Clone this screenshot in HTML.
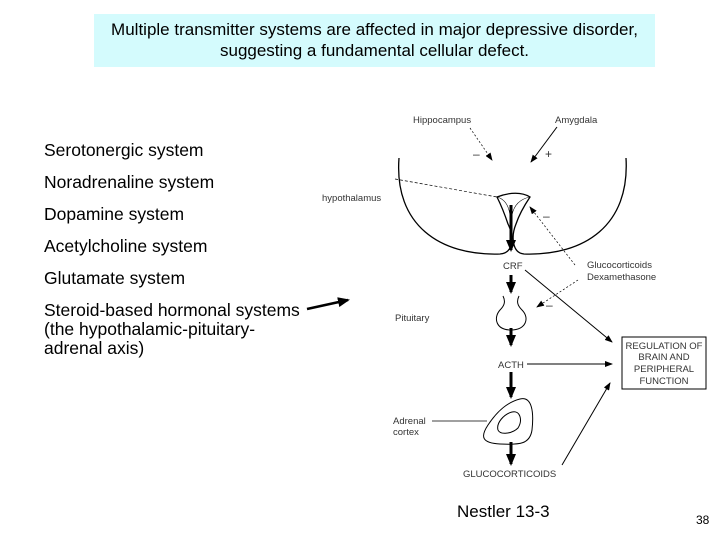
<!DOCTYPE html>
<html><head><meta charset="utf-8"><style>
body{margin:0;width:720px;height:540px;background:#fff;overflow:hidden;position:relative;font-family:"Liberation Sans",sans-serif}
.t{position:absolute;left:94px;top:14px;width:561px;height:53px;background:#d4fbfd;text-align:center;font-size:17px;line-height:21px;padding-top:5px;box-sizing:border-box;color:#000}
.l{position:absolute;left:44px;font-size:17.5px;color:#000;line-height:19px}
</style></head><body>
<div class="t">Multiple transmitter systems are affected in major depressive disorder,<br>suggesting a fundamental cellular defect.</div>
<div class="l" style="top:141px">Serotonergic system</div>
<div class="l" style="top:173px">Noradrenaline system</div>
<div class="l" style="top:205px">Dopamine system</div>
<div class="l" style="top:237px">Acetylcholine system</div>
<div class="l" style="top:269px">Glutamate system</div>
<div class="l" style="top:301px">Steroid-based hormonal systems<br>(the hypothalamic-pituitary-<br>adrenal axis)</div>
<div class="l" style="left:457px;top:502px;font-size:17px">Nestler 13-3</div>
<div class="l" style="left:696px;top:511px;font-size:12px">38</div>
<svg width="720" height="540" style="position:absolute;left:0;top:0" font-family="Liberation Sans, sans-serif" font-size="9.5" fill="#333">
<defs>
<marker id="a" markerWidth="8" markerHeight="6" refX="7" refY="3" orient="auto" markerUnits="userSpaceOnUse"><path d="M0,0L8,3L0,6z" fill="#000"/></marker>
<marker id="b" markerWidth="12" markerHeight="10" refX="10" refY="5" orient="auto" markerUnits="userSpaceOnUse"><path d="M0,0L12,5L0,10z" fill="#000"/></marker>
</defs>
<g stroke="#000" fill="none">
<path d="M399,158 C394,225 440,256 500,254 C514,253 514,236 508,224 C504,212 500,203 497,197 C510,192 522,192 530,197 C526,203 520,212 516,224 C511,236 512,253 524,254 C585,256 630,225 626,158" stroke-width="1.3"/>
<path d="M497,197 Q508,200 510,215 M530,197 Q515,200 512,215" stroke-width="0.6"/>
<line x1="511" y1="205" x2="511" y2="250" stroke-width="3" marker-end="url(#b)"/>
<line x1="511" y1="275" x2="511" y2="292" stroke-width="3" marker-end="url(#b)"/>
<path d="M503,296 C506,302 504,306 500,310 C493,318 496,330 511,330 C526,330 530,318 522,310 C518,306 516,302 519,296" stroke-width="1"/>
<line x1="511" y1="328" x2="511" y2="345" stroke-width="3" marker-end="url(#b)"/>
<line x1="511" y1="372" x2="511" y2="397" stroke-width="3" marker-end="url(#b)"/>
<path d="M520,399 C532,396 534,412 532,430 C530,444 520,445 500,444 C482,443 480,437 488,425 C498,410 508,402 520,399z" stroke-width="1"/>
<path d="M512,412 C520,410 523,420 518,428 C512,434 500,435 498,430 C496,423 504,414 512,412z" stroke-width="1"/>
<line x1="511" y1="442" x2="511" y2="464" stroke-width="3" marker-end="url(#b)"/>
<line x1="470" y1="128" x2="492" y2="160" stroke-dasharray="2,2" stroke-width="0.7" marker-end="url(#a)"/>
<line x1="557" y1="127" x2="531" y2="162" stroke-width="1" marker-end="url(#a)"/>
<line x1="395" y1="179" x2="497" y2="197" stroke-dasharray="3,2" stroke-width="0.7"/>
<line x1="575" y1="265" x2="530" y2="207" stroke-dasharray="2,2" stroke-width="0.7" marker-end="url(#a)"/>
<line x1="578" y1="280" x2="537" y2="307" stroke-dasharray="2,2" stroke-width="0.7" marker-end="url(#a)"/>
<line x1="525" y1="270" x2="612" y2="342" stroke-width="1" marker-end="url(#a)"/>
<line x1="527" y1="364" x2="612" y2="364" stroke-width="1" marker-end="url(#a)"/>
<line x1="562" y1="465" x2="610" y2="383" stroke-width="1" marker-end="url(#a)"/>
<line x1="432" y1="421" x2="487" y2="421" stroke-width="0.8"/>
<rect x="622" y="337" width="84" height="52" stroke-width="1"/>
<line x1="307" y1="309" x2="348" y2="300" stroke-width="2.5" marker-end="url(#b)"/>
</g>
<text x="413" y="123">Hippocampus</text>
<text x="555" y="123">Amygdala</text>
<text x="322" y="201">hypothalamus</text>
<text x="503" y="269">CRF</text>
<text x="587" y="268">Glucocorticoids</text>
<text x="587" y="280">Dexamethasone</text>
<text x="395" y="321">Pituitary</text>
<text x="498" y="368">ACTH</text>
<text x="393" y="424">Adrenal</text>
<text x="393" y="435">cortex</text>
<text x="463" y="477">GLUCOCORTICOIDS</text>
<text x="664" y="349" text-anchor="middle">REGULATION OF</text>
<text x="664" y="360" text-anchor="middle">BRAIN AND</text>
<text x="664" y="372" text-anchor="middle">PERIPHERAL</text>
<text x="664" y="384" text-anchor="middle">FUNCTION</text>
<text x="473" y="158" font-size="12">–</text>
<text x="545" y="158" font-size="12">+</text>
<text x="543" y="220" font-size="12">–</text>
<text x="546" y="309" font-size="12">–</text>
</svg>
</body></html>
